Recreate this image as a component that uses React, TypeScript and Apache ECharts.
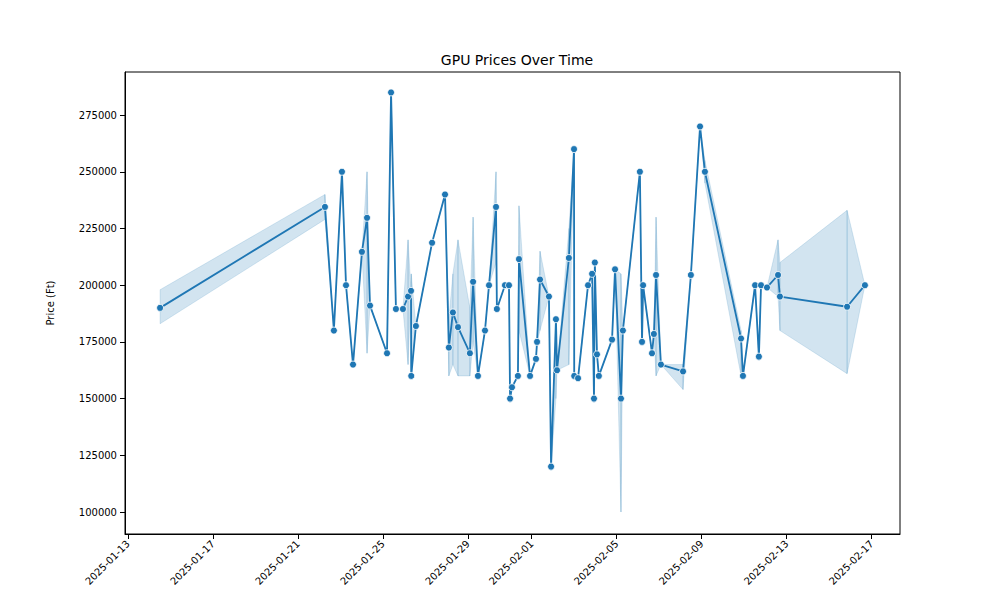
import React, { useEffect, useRef } from "react";
import * as echarts from "echarts";

// days after 2025-01-13 00:00 UTC
const dayOffsets = [
  1.51, 9.27, 9.69, 10.07, 10.26, 10.59, 11.01, 11.25, 11.39, 12.19, 12.38, 12.61, 12.94, 13.18,
  13.32, 13.33, 13.55, 14.31, 14.92, 15.1, 15.29, 15.53, 16.09, 16.24, 16.47, 16.8, 16.99, 17.32,
  17.36, 17.74, 17.93, 17.98, 18.07, 18.35, 18.4, 18.92, 19.2, 19.25, 19.39, 19.81, 19.91, 20.14,
  20.19, 20.75, 20.99, 21.0, 21.18, 21.65, 21.84, 21.93, 21.97, 22.07, 22.16, 22.78, 22.92, 23.2,
  23.29, 24.09, 24.19, 24.24, 24.66, 24.75, 24.85, 25.08, 26.12, 26.49, 26.92, 27.15, 28.85,
  28.94, 29.51, 29.69, 29.79, 30.07, 30.59, 30.68, 33.84, 34.68,
];
const prices = [
  190000, 234500, 180000, 250000, 200000, 165000, 214700, 229700, 191000, 170000, 285000, 189500,
  189500, 195000, 197500, 160000, 182000, 218700, 240000, 172500, 188000, 181500, 170000, 201500,
  160000, 180000, 200000, 234500, 189500, 200000, 200000, 150000, 155000, 160000, 211500, 160000,
  167500, 175000, 202500, 195000, 120000, 185000, 162500, 212000, 260000, 160000, 159000, 200000,
  205000, 150000, 210000, 169500, 160000, 176000, 207000, 150000, 180000, 250000, 175000, 200000,
  170000, 178500, 204500, 165000, 162000, 204500, 270000, 250000, 176500, 160000, 200000, 168500,
  200000, 199000, 204500, 195000, 190500, 200000,
];
// confidence interval bounds at the points that have a band
const bandIdx = [0, 1, 7, 13, 15, 19, 20, 21, 22, 23, 27, 34, 38, 41, 43, 55, 62, 64, 67, 68, 74, 75, 76];
const bandLo = [183000, 229000, 170000, 165000, 160000, 160000, 165000, 160000, 160000, 175000, 210000, 180000, 180000, 150000, 165000, 100000, 160000, 154000, 245000, 160000, 195000, 180000, 161000];
const bandHi = [198000, 240000, 250000, 220000, 205000, 185000, 205000, 220000, 190000, 230000, 250000, 235000, 215000, 185000, 225000, 205000, 230000, 165000, 255000, 180000, 220000, 210000, 233000];
const xTickDates = [
  "2025-01-13", "2025-01-17", "2025-01-21", "2025-01-25", "2025-01-29",
  "2025-02-01", "2025-02-05", "2025-02-09", "2025-02-13", "2025-02-17",
];
const yTicks = [100000, 125000, 150000, 175000, 200000, 225000, 250000, 275000];

const DAY = 86400000;
const T0 = Date.UTC(2025, 0, 13);

const App: React.FC = () => {
  const chartRef = useRef<HTMLDivElement>(null);

  useEffect(() => {
    const chart = echarts.init(chartRef.current!, undefined, { renderer: "svg" });
    const xs = dayOffsets.map((d) => T0 + d * DAY);
    const lo = prices.slice();
    const hi = prices.slice();
    bandIdx.forEach((k, j) => {
      lo[k] = bandLo[j];
      hi[k] = bandHi[j];
    });
    // one polygon per segment between neighbouring points
    const segs = xs.slice(0, -1).map((x, i) => [x, lo[i], hi[i], xs[i + 1], lo[i + 1], hi[i + 1]]);
    const xTicks = xTickDates.map((s) => Date.parse(s + "T00:00:00Z"));

    chart.setOption({
      animation: false,
      textStyle: { fontFamily: "DejaVu Sans" },
      title: {
        text: "GPU Prices Over Time",
        left: 512,
        top: 48,
        textAlign: "center",
        textStyle: { fontSize: 14, fontWeight: "normal", color: "#000" },
      },
      grid: { left: 125, right: 100, top: 72, bottom: 66, show: true, borderColor: "#000", borderWidth: 1 },
      xAxis: {
        type: "value",
        min: T0 - 0.14 * DAY,
        max: T0 + 36.33 * DAY,
        splitLine: { show: false },
        axisLine: { lineStyle: { color: "#000" } },
        axisTick: { customValues: xTicks, lineStyle: { color: "#000" } },
        axisLabel: {
          customValues: xTicks,
          rotate: 45,
          fontSize: 10,
          color: "#000",
          formatter: (v: number) => new Date(v).toISOString().slice(0, 10),
        },
      },
      yAxis: {
        type: "value",
        min: 90300,
        max: 294000,
        name: "Price (Ft)",
        nameLocation: "middle",
        nameGap: 70,
        nameTextStyle: { fontSize: 10, color: "#000" },
        splitLine: { show: false },
        axisLine: { show: true, lineStyle: { color: "#000" } },
        axisTick: { show: true, customValues: yTicks, lineStyle: { color: "#000" } },
        axisLabel: { customValues: yTicks, fontSize: 10, color: "#000", formatter: (v: number) => String(v) },
      },
      series: [
        {
          type: "custom",
          silent: true,
          data: segs,
          encode: { x: [0, 3], y: [1, 2, 4, 5] },
          renderItem: (params: any, api: any) => {
            const p1 = api.coord([api.value(0), api.value(1)]);
            const p2 = api.coord([api.value(3), api.value(4)]);
            const p3 = api.coord([api.value(3), api.value(5)]);
            const p4 = api.coord([api.value(0), api.value(2)]);
            return {
              type: "polygon",
              shape: { points: [p1, p2, p3, p4] },
              style: { fill: "rgba(31,119,180,0.2)", stroke: "rgba(31,119,180,0.2)", lineWidth: 0.8 },
            };
          },
        },
        {
          type: "line",
          data: xs.map((x, i) => [x, prices[i]]),
          symbol: "circle",
          symbolSize: 7,
          showAllSymbol: true,
          lineStyle: { color: "#1f77b4", width: 1.8 },
          itemStyle: { color: "#1f77b4", borderColor: "#fff", borderWidth: 0.8 },
        },
      ],
    });

    return () => {
      chart.dispose();
    };
  }, []);

  return <div ref={chartRef} style={{ width: 1000, height: 600, margin: -8 }} />;
};

export default App;
